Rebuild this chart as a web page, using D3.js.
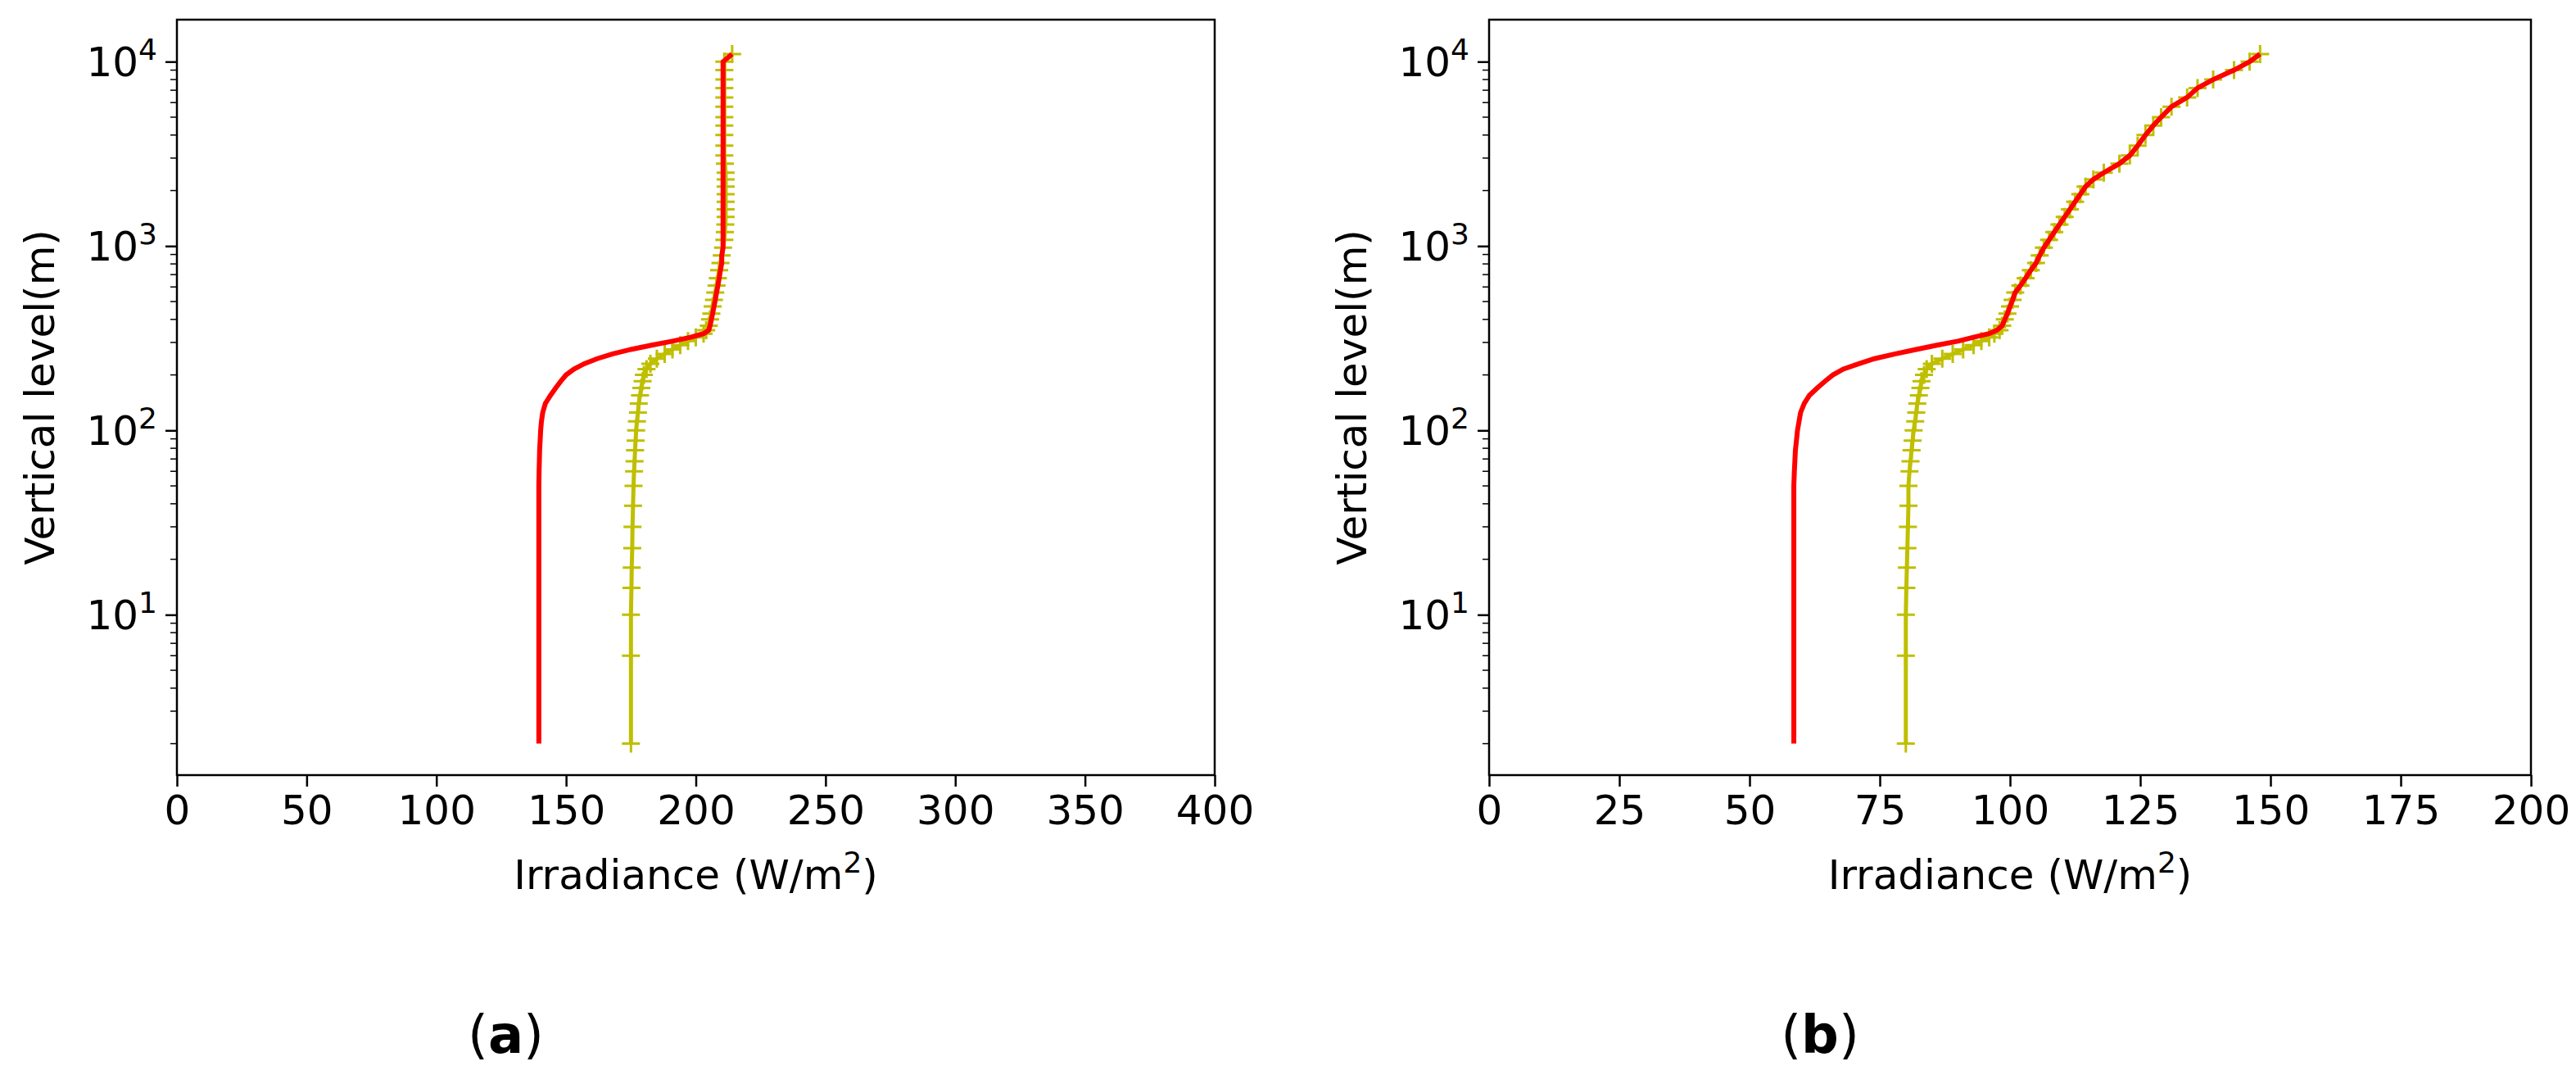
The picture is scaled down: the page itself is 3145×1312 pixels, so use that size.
<!DOCTYPE html>
<html>
<head>
<meta charset="utf-8">
<script src="https://cdn.jsdelivr.net/npm/d3@7"></script>
<style>
  body { margin: 0; background: #fff; }
  text { font-family: "DejaVu Sans", sans-serif; }
</style>
</head>
<body>
<div id="chart"></div>
<script>
// Data: vertical levels (m)
const levels = [2, 6, 10, 14, 18, 23, 30, 39, 50, 60, 68, 78, 88, 100, 112, 125, 140, 155, 170, 185,
  200, 215, 230, 245, 260, 275, 290, 305, 320, 335, 350, 370, 400, 430, 470, 510, 560, 610, 670, 740,
  810, 890, 980, 1080, 1190, 1310, 1440, 1580, 1740, 1910, 2100, 2300, 2500, 2800, 3100, 3500, 4000,
  4500, 5000, 5700, 6400, 7200, 8000, 9000, 10000, 11000];

// Panel (a) irradiance (W/m2)
const redA = [139.5, 139.5, 139.5, 139.5, 139.5, 139.5, 139.5, 139.5, 139.5, 139.6, 139.7, 139.8, 140, 140.2, 140.5, 141, 142, 144, 146, 148,
  150, 153, 157, 162, 168, 175, 183, 191, 198, 203, 205, 205.5, 206, 206.5, 207, 207.5, 208, 208.5, 209, 209.5,
  210, 210, 210.5, 210.5, 210.5, 210.5, 210.5, 210.5, 210.5, 210.5, 210.5, 210.5, 210.5, 210.5, 210.5, 210.5, 210.5,
  210.5, 210.5, 210.5, 210.5, 210.5, 210.5, 210.5, 210.5, 214];
const yelA = [175, 175, 175, 175.2, 175.3, 175.5, 175.6, 175.8, 176, 176.2, 176.4, 176.6, 176.8, 177, 177.3, 177.7, 178, 178.5, 179, 179.5,
  180, 181, 182.5, 185, 188, 191, 194, 197, 200, 203, 204, 205, 205.5, 206, 206.5, 207, 207.5, 208, 208.5, 209,
  209.5, 210, 210.5, 211, 211.2, 211.4, 211.5, 211.5, 211.5, 211.5, 211.5, 211.5, 211.5, 211.2, 211, 211, 211,
  211, 211, 211, 211, 211, 211, 211, 211, 214];

// Panel (b) irradiance (W/m2)
const yelB = [80, 80, 80, 80.1, 80.2, 80.3, 80.4, 80.5, 80.5, 80.7, 80.9, 81.1, 81.3, 81.5, 81.8, 82, 82.2, 82.5, 82.8, 83,
  83.5, 84, 85, 87, 89, 91, 93, 94.5, 96, 97, 98, 98.5, 99, 99.5, 100, 100.5, 101, 102, 103, 104,
  105, 105.7, 106.5, 107.5, 108.5, 109.5, 110.5, 111.5, 112.5, 113.5, 114.5, 116, 118, 121, 123, 124.5, 126,
  127.5, 129, 131, 134, 136, 139, 143, 146, 148];
const redB = [58.5, 58.5, 58.5, 58.5, 58.5, 58.5, 58.5, 58.5, 58.5, 58.6, 58.7, 58.8, 59, 59.2, 59.5, 59.8, 60.5, 61.5, 63, 64.5,
  66, 68, 71, 74, 78, 82, 86, 90, 93, 96, 97.5, 98.5, 99, 99.5, 100, 100.5, 101, 102, 103, 104,
  105, 105.7, 106.5, 107.5, 108.5, 109.5, 110.5, 111.5, 112.5, 113.5, 114.5, 116, 118, 121, 123, 124.5, 126,
  127.5, 129, 131, 134, 136, 139, 143, 146, 148];

const ticksA = [0, 50, 100, 150, 200, 250, 300, 350, 400];
const ticksB = [0, 25, 50, 75, 100, 125, 150, 175, 200];
const yTicks = [10, 100, 1000, 10000];

const width = 3145, height = 1312;
const plotTop = 24, plotBottom = 946;

const svg = d3.select('#chart').append('svg')
  .attr('width', width).attr('height', height);

const yScale = d3.scaleLog().domain([1.35, 16900]).range([plotBottom, plotTop]);

function panel(left, right, xMax, xTicks, red, yel, tag) {
  const x = d3.scaleLinear().domain([0, xMax]).range([left, right]);
  const g = svg.append('g');

  const line = vals => d3.line()
    .x((d, i) => x(vals[i]))
    .y(d => yScale(d))(levels);

  // Yellow line with + markers
  g.append('path').attr('d', line(yel))
    .attr('fill', 'none').attr('stroke', '#bfbf00').attr('stroke-width', 5);
  g.selectAll('.mk').data(levels).enter().append('path')
    .attr('d', 'M-11,0H11M0,-11V11')
    .attr('transform', (d, i) => `translate(${x(yel[i])},${yScale(d)})`)
    .attr('stroke', '#bfbf00').attr('stroke-width', 3);

  // Red line
  g.append('path').attr('d', line(red))
    .attr('fill', 'none').attr('stroke', '#ff0000').attr('stroke-width', 6);

  // Frame
  g.append('rect').attr('x', left).attr('y', plotTop)
    .attr('width', right - left).attr('height', plotBottom - plotTop)
    .attr('fill', 'none').attr('stroke', '#000').attr('stroke-width', 2.5);

  // X axis
  const xa = g.append('g').attr('transform', `translate(0,${plotBottom})`)
    .call(d3.axisBottom(x).tickValues(xTicks).tickSize(14).tickPadding(10));
  xa.select('.domain').remove();
  xa.selectAll('line').attr('stroke-width', 2.5);
  xa.selectAll('text').attr('font-size', 50).attr('font-family', 'DejaVu Sans');

  // Y axis (log)
  const ya = g.append('g').attr('transform', `translate(${left},0)`)
    .call(d3.axisLeft(yScale).tickValues(yTicks).tickSize(14).tickFormat(''));
  ya.select('.domain').remove();
  ya.selectAll('line').attr('stroke-width', 2.5);
  const minor = [];
  for (let e = 0; e <= 4; e++) for (let m = 2; m <= 9; m++) {
    const v = m * Math.pow(10, e);
    if (v > 1.35 && v < 16900) minor.push(v);
  }
  g.selectAll('.minor').data(minor).enter().append('line')
    .attr('x1', left - 8).attr('x2', left)
    .attr('y1', d => yScale(d)).attr('y2', d => yScale(d))
    .attr('stroke', '#000').attr('stroke-width', 1.5);
  yTicks.forEach(v => {
    const t = g.append('text').attr('x', left - 24).attr('y', yScale(v) + 18)
      .attr('text-anchor', 'end').attr('font-size', 50);
    t.append('tspan').text('10');
    t.append('tspan').attr('dy', -20).attr('font-size', 36).text(Math.round(Math.log10(v)));
  });

  // Axis labels
  const xl = g.append('text').attr('x', (left + right) / 2).attr('y', 1085)
    .attr('text-anchor', 'middle').attr('font-size', 50);
  xl.append('tspan').text('Irradiance (W/m');
  xl.append('tspan').attr('dy', -20).attr('font-size', 36).text('2');
  xl.append('tspan').attr('dy', 20).text(')');

  g.append('text')
    .attr('transform', `translate(${left - 150},${(plotTop + plotBottom) / 2}) rotate(-90)`)
    .attr('text-anchor', 'middle').attr('font-size', 50).text('Vertical level(m)');

  // Panel tag
  const pt = g.append('text').attr('x', (left + right) / 2 - 232).attr('y', 1285)
    .attr('text-anchor', 'middle').attr('font-size', 64)
    .attr('font-family', 'Liberation Serif, serif');
  pt.append('tspan').text('(');
  pt.append('tspan').attr('font-weight', 'bold').text(tag);
  pt.append('tspan').text(')');
}

panel(216, 1483, 400, ticksA, redA, yelA, 'a');
panel(1818, 3090, 200, ticksB, redB, yelB, 'b');
</script>
</body>
</html>
